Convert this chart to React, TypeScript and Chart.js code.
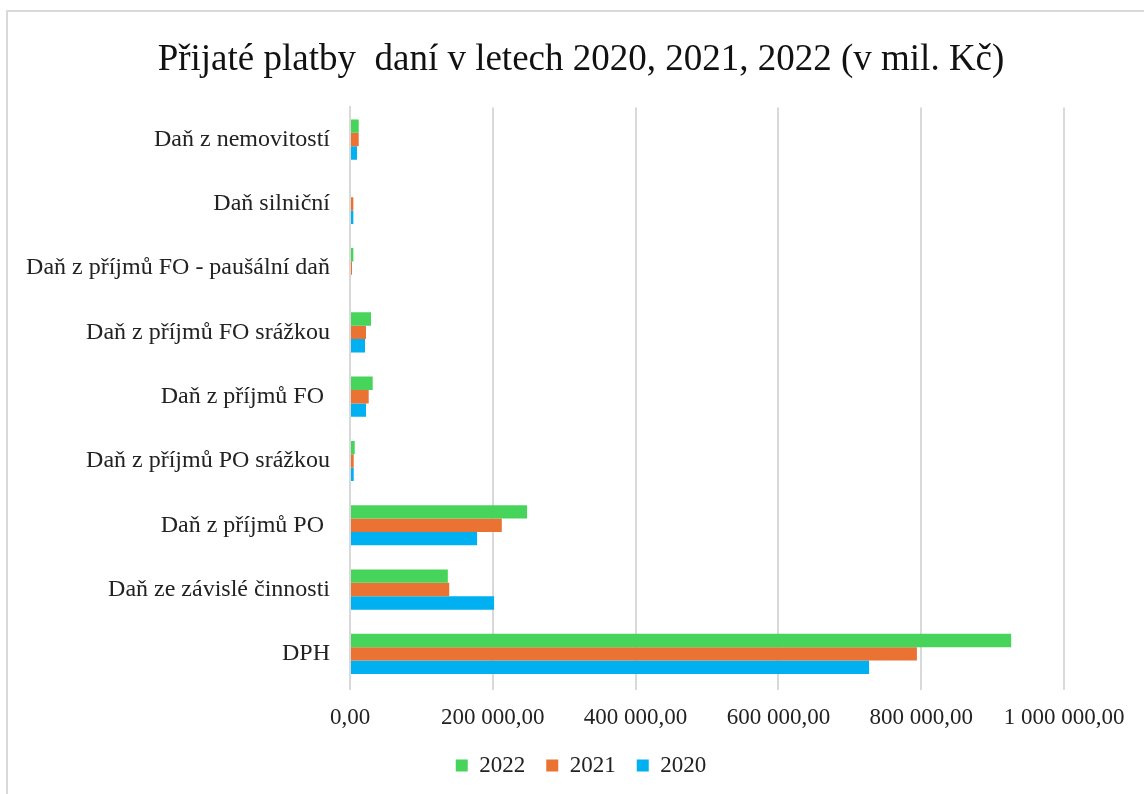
import React, { useEffect, useRef } from "react";
import { Chart, registerables } from "chart.js";

Chart.register(...registerables);

const categories = [
  "Daň z nemovitostí",
  "Daň silniční",
  "Daň z příjmů FO - paušální daň",
  "Daň z příjmů FO srážkou",
  "Daň z příjmů FO ",
  "Daň z příjmů PO srážkou",
  "Daň z příjmů PO ",
  "Daň ze závislé činnosti",
  "DPH",
];

const values2022 = [12200, 0, 4700, 29400, 31800, 6600, 248000, 137000, 926000];
const values2021 = [12200, 4700, 2800, 22400, 26200, 5200, 212600, 139000, 794000];
const values2020 = [9800, 4700, 0, 21000, 22400, 5200, 178000, 201800, 727000];

const seriesLabels = ["2022", "2021", "2020"];
const seriesColors = ["#46D45B", "#EA7233", "#00B0F0"];

const titleText = "Přijaté platby  daní v letech 2020, 2021, 2022 (v mil. Kč)";

const SERIF = '"Liberation Serif", "Times New Roman", serif';

const CANVAS_W = 1146;
const CANVAS_H = 775;

function formatCz(v: number): string {
  const fixed = Math.abs(v).toFixed(2);
  const [intPart, dec] = fixed.split(".");
  const withSpaces = intPart.replace(/\B(?=(\d{3})+(?!\d))/g, " ");
  return (v < 0 ? "-" : "") + withSpaces + "," + dec;
}

export default function App() {
  const canvasRef = useRef<HTMLCanvasElement | null>(null);

  useEffect(() => {
    if (!canvasRef.current) return;
    const data = [values2022, values2021, values2020];
    const chart = new Chart(canvasRef.current, {
      type: "bar",
      data: {
        labels: categories,
        datasets: seriesLabels.map((lab, i) => ({
          label: lab,
          data: data[i],
          backgroundColor: seriesColors[i],
          borderWidth: 0,
          barPercentage: 1,
          categoryPercentage: 0.625,
        })),
      },
      options: {
        indexAxis: "y",
        responsive: false,
        animation: false,
        devicePixelRatio: 1,
        layout: { padding: { left: 0, right: 0, top: 26, bottom: 0 } },
        plugins: {
          title: {
            display: true,
            text: titleText,
            color: "#111",
            font: { family: SERIF, size: 37, weight: "normal" },
            padding: { top: 0, bottom: 25 },
          },
          legend: {
            display: true,
            position: "bottom",
            labels: {
              color: "#222",
              font: { family: SERIF, size: 23 },
              boxWidth: 12,
              boxHeight: 12,
              padding: 21,
            },
          },
          tooltip: { enabled: false },
        },
        scales: {
          x: {
            type: "linear",
            min: 0,
            max: 1000000,
            ticks: {
              stepSize: 200000,
              color: "#222",
              font: { family: SERIF, size: 23 },
              padding: 14,
              callback: (v: any) => formatCz(Number(v)),
            },
            grid: {
              color: "#d9d9d9",
              lineWidth: 2,
              drawTicks: true,
              tickLength: 4,
            },
            border: { display: false },
            afterFit: (scale: any) => {
              scale.paddingRight = 90;
              scale.height = 47;
            },
          },
          y: {
            type: "category",
            ticks: {
              color: "#222",
              font: { family: SERIF, size: 24 },
              padding: 20,
            },
            grid: { display: false, drawTicks: false },
            border: { display: true, color: "#d9d9d9", width: 2 },
            afterFit: (scale: any) => {
              scale.width = 342;
            },
          },
        },
      },
    });
    return () => chart.destroy();
  }, []);

  return (
    <div
      style={{
        position: "absolute",
        left: 0,
        top: 0,
        width: 1144,
        height: 794,
        overflow: "hidden",
        background: "#fff",
      }}
    >
      <div
        style={{
          position: "absolute",
          left: 6,
          top: 10,
          width: 2000,
          height: 2000,
          borderLeft: "2px solid #d9d9d9",
          borderTop: "2px solid #d9d9d9",
        }}
      />
      <div style={{ position: "absolute", left: 8, top: 12, width: CANVAS_W, height: CANVAS_H }}>
        <canvas ref={canvasRef} width={CANVAS_W} height={CANVAS_H} />
      </div>
    </div>
  );
}
